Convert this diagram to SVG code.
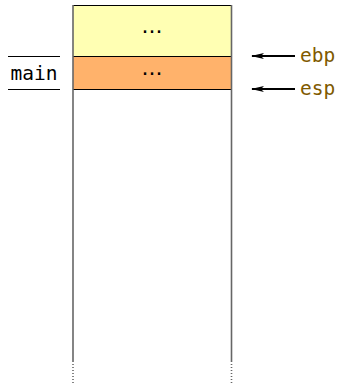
<svg xmlns="http://www.w3.org/2000/svg" width="338" height="384" viewBox="0 0 338 384">
<style>
.mono{font-family:"DejaVu Sans Mono","Liberation Mono",monospace;font-size:19.5px}
.dots{font-family:"DejaVu Sans","Liberation Sans",sans-serif;font-size:22px}
.reg{fill:#7f5a00}
.ln{stroke:#000;stroke-width:1;fill:none}
.side{stroke:#666;stroke-width:1.6;fill:none}
.arr{stroke:#000;stroke-width:2;fill:none}
</style>
<defs>
<marker id="ah" markerWidth="14" markerHeight="8" refX="12" refY="4" orient="auto" markerUnits="userSpaceOnUse">
<path d="M0,1 L13,4 L0,7 L3,4 Z" fill="#000"/>
</marker>
</defs>
<rect width="338" height="384" fill="#fff"/>
<g id="frame-yellow">
<rect x="73" y="5.5" width="158.5" height="51" fill="#ffffb3"/>
<line class="ln" x1="73" y1="5.5" x2="231.5" y2="5.5"/>
<text x="152" y="33" class="dots" text-anchor="middle">...</text>
</g>
<g id="frame-main">
<rect x="73" y="56.5" width="158.5" height="33" fill="#ffb26b"/>
<line class="ln" x1="73" y1="56.5" x2="231.5" y2="56.5"/>
<line class="ln" x1="73" y1="89.5" x2="231.5" y2="89.5"/>
<text x="152" y="75" class="dots" text-anchor="middle">...</text>
</g>
<g id="stack-sides">
<line class="side" x1="73" y1="5" x2="73" y2="362"/>
<line class="side" x1="231.5" y1="5" x2="231.5" y2="362"/>
<line class="side" x1="73" y1="364" x2="73" y2="384" stroke-dasharray="1,2"/>
<line class="side" x1="231.5" y1="364" x2="231.5" y2="384" stroke-dasharray="1,2"/>
</g>
<g id="main-label">
<line class="ln" x1="8" y1="56.5" x2="60" y2="56.5"/>
<line class="ln" x1="8" y1="89.5" x2="60" y2="89.5"/>
<text x="34" y="80" class="mono" text-anchor="middle">main</text>
</g>
<g id="connectors">
<line class="arr" x1="295" y1="56" x2="252" y2="56" marker-end="url(#ah)"/>
<line class="arr" x1="295" y1="89" x2="252" y2="89" marker-end="url(#ah)"/>
</g>
<g id="ebp">
<text x="300" y="62" class="mono reg">ebp</text>
</g>
<g id="esp">
<text x="300" y="95" class="mono reg">esp</text>
</g>
</svg>
